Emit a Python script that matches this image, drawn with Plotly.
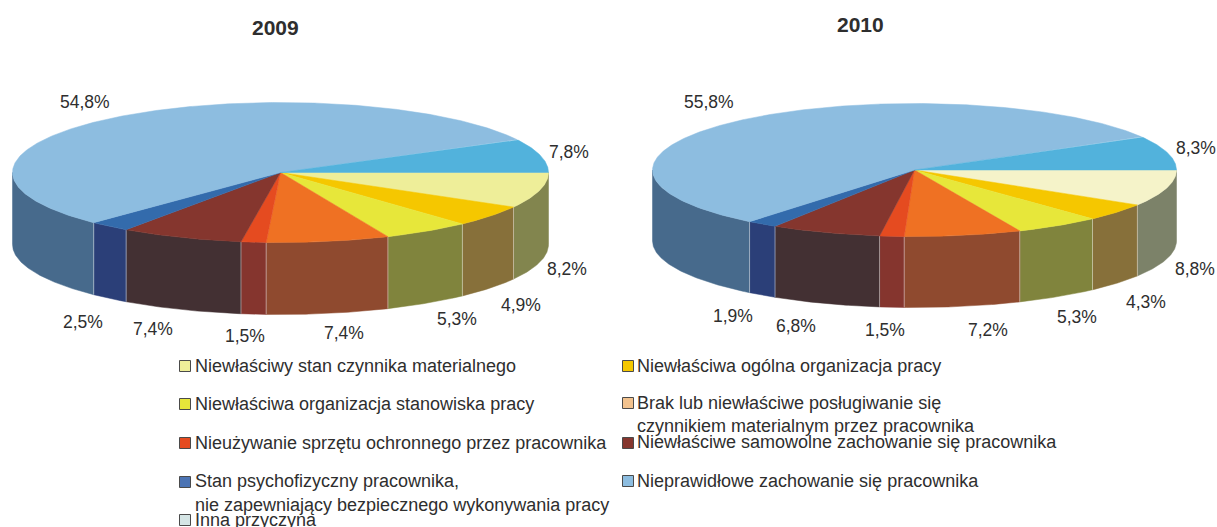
import math
import plotly.graph_objects as go

# ---------- data ----------
years = ["2009", "2010"]
values_2009 = [8.2, 4.9, 5.3, 7.4, 1.5, 7.4, 2.5, 54.8, 7.8]
values_2010 = [8.8, 4.3, 5.3, 7.2, 1.5, 6.8, 1.9, 55.8, 8.3]
value_labels_2009 = ["8,2%", "4,9%", "5,3%", "7,4%", "1,5%", "7,4%", "2,5%", "54,8%", "7,8%"]
value_labels_2010 = ["8,8%", "4,3%", "5,3%", "7,2%", "1,5%", "6,8%", "1,9%", "55,8%", "8,3%"]
categories = [
    "Niewłaściwy stan czynnika materialnego",
    "Niewłaściwa ogólna organizacja pracy",
    "Niewłaściwa organizacja stanowiska pracy",
    "Brak lub niewłaściwe posługiwanie się czynnikiem materialnym przez pracownika",
    "Nieużywanie sprzętu ochronnego przez pracownika",
    "Niewłaściwe samowolne zachowanie się pracownika",
    "Stan psychofizyczny pracownika, nie zapewniający bezpiecznego wykonywania pracy",
    "Nieprawidłowe zachowanie się pracownika",
    "Inna przyczyna",
]

# ---------- styles ----------
top_2009 = ["#EEEE99", "#F5C700", "#E7E73A", "#EF7123", "#E54B20", "#85362E", "#336BAC", "#8DBDE0", "#52B2DC"]
top_2010 = ["#F5F3C9", "#F5C700", "#E7E73A", "#EF7123", "#E54B20", "#85362E", "#336BAC", "#8DBDE0", "#52B2DC"]
side_2009 = ["#82854E", "#87703A", "#80843D", "#8F4A2F", "#85352E", "#433033", "#2B3F78", "#476A8C", "#2F6F8C"]
side_2010 = ["#7C8269", "#87703A", "#80843D", "#8F4A2F", "#85352E", "#433033", "#2B3F78", "#476A8C", "#2F6F8C"]
swatches = ["#EEEE99", "#F5C800", "#E7E73A", "#F2C28E", "#E54B20", "#85362E", "#4C74B4", "#8DBDE0", "#D5E5E5"]

W, H = 1217, 527
TEXT = "#2E2E2E"
LABEL_SIZE = 17.5
LEGEND_SIZE = 18

# pie geometry: centre x, centre y, rx, ry, depth
geom_2009 = (280.5, 172.5, 268, 70, 72)
geom_2010 = (914.5, 170, 262, 66.5, 71)

label_pos_2009 = [(567, 269), (521, 305), (457, 319), (344, 333), (245, 336), (153, 329), (83, 322), (85, 102), (569, 152)]
label_pos_2010 = [(1195, 269), (1146, 302), (1077, 317), (988, 330), (885, 330), (796, 326), (733, 316), (709, 102), (1196, 148)]
title_pos = [(275, 27), (860, 24)]

legend_rows = [  # category index, swatch x, y / text lines
    (0, 179, 366, [(192.5, 366, "Niewłaściwy stan czynnika materialnego")]),
    (1, 622, 366, [(634.5, 366, "Niewłaściwa ogólna organizacja pracy")]),
    (2, 179, 404, [(192.5, 404, "Niewłaściwa organizacja stanowiska pracy")]),
    (3, 622, 403, [(634.5, 403, "Brak lub niewłaściwe posługiwanie się"),
                   (634.5, 426, "czynnikiem materialnym przez pracownika")]),
    (4, 179, 443, [(192.5, 443, "Nieużywanie sprzętu ochronnego przez pracownika")]),
    (5, 622, 443, [(634.5, 442, "Niewłaściwe samowolne zachowanie się pracownika")]),
    (6, 179, 482, [(192.5, 481, "Stan psychofizyczny pracownika,"),
                   (192.5, 505, "nie zapewniający bezpiecznego wykonywania pracy")]),
    (7, 622, 481, [(634.5, 481, "Nieprawidłowe zachowanie się pracownika")]),
    (8, 179, 520, [(192.5, 520, "Inna przyczyna")]),
]


def pt(g, deg, dz=0.0):
    r = math.radians(deg)
    return g[0] + g[2] * math.cos(r), g[1] + g[3] * math.sin(r) + dz


def arc(g, a, b, dz=0.0):
    n = max(2, int(abs(b - a) * 2) + 1)
    pts = [pt(g, a + (b - a) * i / (n - 1), dz) for i in range(n)]
    return [p[0] for p in pts], [p[1] for p in pts]


fig = go.Figure()


def add_pie(values, tops, sides, g, year):
    total = sum(values)
    edges = [0.0]
    for v in values:
        edges.append(edges[-1] + v / total * 360)
    # side walls
    for i, v in enumerate(values):
        a, b = edges[i], min(edges[i + 1], 180)
        if a >= 180:
            continue
        x1, y1 = arc(g, a, b)
        x2, y2 = arc(g, b, a, g[4])
        fig.add_trace(go.Scatter(x=x1 + x2 + x1[:1], y=y1 + y2 + y1[:1], mode="lines", fill="toself",
                                 fillcolor=sides[i], line=dict(width=0.5, color=sides[i]),
                                 name=f"{year} {categories[i]}", showlegend=False, hoverinfo="skip"))
    # pale separators between walls
    for e in edges[1:]:
        if e < 180:
            x0, y0 = pt(g, e)
            x1, y1 = pt(g, e, g[4])
            fig.add_trace(go.Scatter(x=[x0, x1], y=[y0, y1], mode="lines",
                                     line=dict(width=1, color="rgba(255,255,255,0.45)"),
                                     showlegend=False, hoverinfo="skip"))
    # top slices
    for i, v in enumerate(values):
        xs, ys = arc(g, edges[i], edges[i + 1])
        fig.add_trace(go.Scatter(x=[g[0]] + xs + [g[0]], y=[g[1]] + ys + [g[1]], mode="lines", fill="toself",
                                 fillcolor=tops[i], line=dict(width=0.5, color=tops[i]),
                                 name=f"{year} {categories[i]}: {v}", showlegend=False, hoverinfo="name"))


add_pie(values_2009, top_2009, side_2009, geom_2009, years[0])
add_pie(values_2010, top_2010, side_2010, geom_2010, years[1])

# legend swatches
fig.add_trace(go.Scatter(
    x=[r[1] + 6 for r in legend_rows], y=[r[2] for r in legend_rows], mode="markers",
    marker=dict(symbol="square", size=11, color=[swatches[r[0]] for r in legend_rows],
                line=dict(width=1, color="#4A4A4A")),
    showlegend=False, hoverinfo="skip"))

ann = []
for (x, y), t in zip(title_pos, years):
    ann.append(dict(x=x, y=y, text=f"<b>{t}</b>", font=dict(size=21, color=TEXT, family="Liberation Sans")))
for labels, pos in ((value_labels_2009, label_pos_2009), (value_labels_2010, label_pos_2010)):
    for t, (x, y) in zip(labels, pos):
        ann.append(dict(x=x, y=y, text=t, font=dict(size=LABEL_SIZE, color=TEXT, family="Liberation Sans")))
for r in legend_rows:
    for x, y, t in r[3]:
        ann.append(dict(x=x, y=y, text=t, xanchor="left",
                        font=dict(size=LEGEND_SIZE, color=TEXT, family="Liberation Sans")))
for a in ann:
    a.update(xref="x", yref="y", showarrow=False)

fig.update_layout(
    width=W, height=H, margin=dict(l=0, r=0, t=0, b=0),
    paper_bgcolor="white", plot_bgcolor="white", showlegend=False,
    xaxis=dict(range=[0, W], visible=False, fixedrange=True),
    yaxis=dict(range=[H, 0], visible=False, fixedrange=True),
    annotations=ann,
)

fig.write_html("out.html", config={"displayModeBar": False},
               post_script="document.body.style.margin='0';document.documentElement.style.overflow='hidden';document.body.style.overflow='hidden';")
